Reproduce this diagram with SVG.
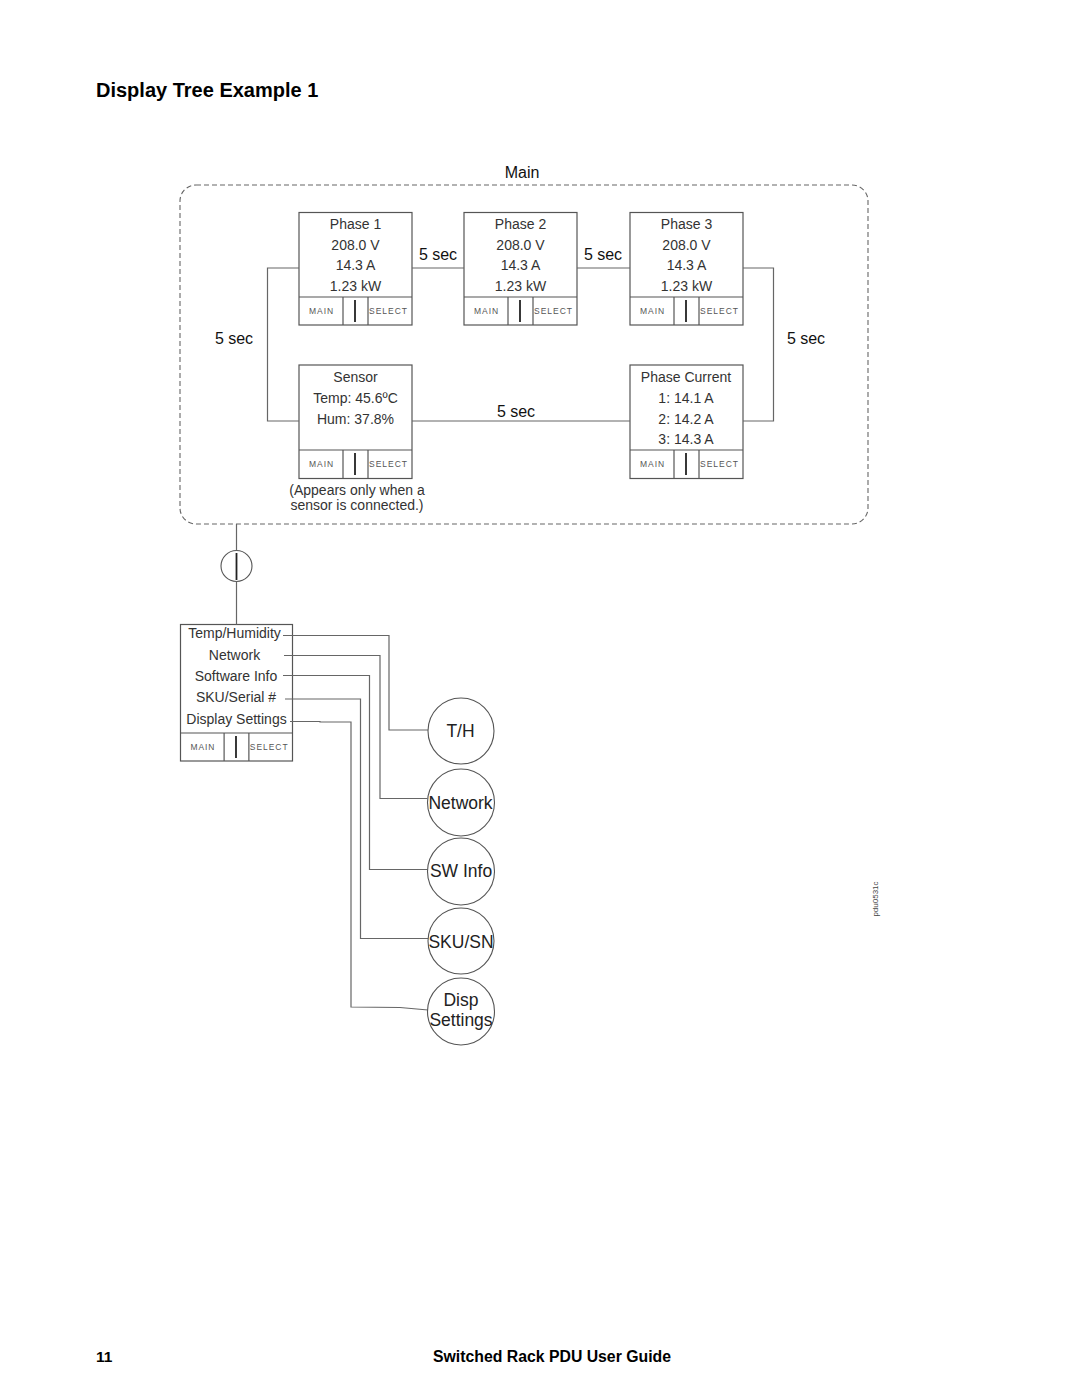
<svg xmlns="http://www.w3.org/2000/svg" width="1080" height="1397" viewBox="0 0 1080 1397">
<style>
text{font-family:"Liberation Sans",Arial,sans-serif}
.box{fill:#fff;stroke:#555;stroke-width:1.2}
.sep{stroke:#555;stroke-width:1.2}
.bar{stroke:#222;stroke-width:1.8}
.t{font-size:14px;fill:#333;text-anchor:middle}
.lbl{font-size:16px;fill:#111;text-anchor:middle}
.btn{font-size:8.5px;fill:#555;letter-spacing:1px}
.c{fill:none;stroke:#666;stroke-width:1.2}
.circ{fill:#fff;stroke:#555;stroke-width:1.1}
.ct{font-size:17.5px;fill:#222;text-anchor:middle}
</style>
<defs>
<g id="btns">
<line class="sep" x1="0" y1="0" x2="113" y2="0"/>
<line class="sep" x1="44" y1="0" x2="44" y2="28"/>
<line class="sep" x1="69" y1="0" x2="69" y2="28"/>
<line class="bar" x1="56" y1="3" x2="56" y2="25"/>
<text class="btn" x="10" y="17">MAIN</text>
<text class="btn" x="70" y="17" letter-spacing="0.8">SELECT</text>
</g>
</defs>

<text x="96" y="97" font-size="20" font-weight="bold" fill="#000">Display Tree Example 1</text>

<g id="main-frame">
<rect x="180" y="185" width="688" height="339" rx="16" ry="16" fill="none" stroke="#666" stroke-width="1.1" stroke-dasharray="5,3"/>
<text class="lbl" x="522" y="178">Main</text>
</g>

<g id="phase1">
<rect class="box" x="299" y="212.5" width="113" height="112.5"/>
<text class="t" x="355.5" y="229">Phase 1</text>
<text class="t" x="355.5" y="249.5">208.0 V</text>
<text class="t" x="355.5" y="270">14.3 A</text>
<text class="t" x="355.5" y="290.5">1.23 kW</text>
<use href="#btns" x="299" y="297"/>
</g>

<g id="phase2">
<rect class="box" x="464" y="212.5" width="113" height="112.5"/>
<text class="t" x="520.5" y="229">Phase 2</text>
<text class="t" x="520.5" y="249.5">208.0 V</text>
<text class="t" x="520.5" y="270">14.3 A</text>
<text class="t" x="520.5" y="290.5">1.23 kW</text>
<use href="#btns" x="464" y="297"/>
</g>

<g id="phase3">
<rect class="box" x="630" y="212.5" width="113" height="112.5"/>
<text class="t" x="686.5" y="229">Phase 3</text>
<text class="t" x="686.5" y="249.5">208.0 V</text>
<text class="t" x="686.5" y="270">14.3 A</text>
<text class="t" x="686.5" y="290.5">1.23 kW</text>
<use href="#btns" x="630" y="297"/>
</g>

<g id="sensor">
<rect class="box" x="299" y="365" width="113" height="113.5"/>
<text class="t" x="355.5" y="382">Sensor</text>
<text class="t" x="355.5" y="403">Temp: 45.6ºC</text>
<text class="t" x="355.5" y="424">Hum: 37.8%</text>
<use href="#btns" x="299" y="450"/>
<text class="t" x="357" y="495">(Appears only when a</text>
<text class="t" x="357" y="510">sensor is connected.)</text>
</g>

<g id="phase-current">
<rect class="box" x="630" y="365" width="113" height="113.5"/>
<text class="t" x="686" y="381.5">Phase Current</text>
<text class="t" x="686" y="402.5">1: 14.1 A</text>
<text class="t" x="686" y="423.5">2: 14.2 A</text>
<text class="t" x="686" y="444">3: 14.3 A</text>
<use href="#btns" x="630" y="450"/>
</g>

<g id="main-button">
<circle class="circ" cx="236.5" cy="566" r="15.5"/>
<line class="bar" x1="236.5" y1="553" x2="236.5" y2="580"/>
</g>

<g id="menu">
<rect class="box" x="180.5" y="624.5" width="112" height="136.5" fill="none" style="fill:none"/>
<text class="t" x="234.5" y="638">Temp/Humidity</text>
<text class="t" x="234.5" y="660">Network</text>
<text class="t" x="236" y="681">Software Info</text>
<text class="t" x="236" y="702">SKU/Serial #</text>
<text class="t" x="236.5" y="723.5">Display Settings</text>
<g transform="translate(180.5,733) scale(0.991,1)"><use href="#btns"/></g>
</g>

<g id="connectors">
<polyline class="c" points="412,268 464,268"/>
<polyline class="c" points="577,268 630,268"/>
<polyline class="c" points="299,268 267.5,268 267.5,421 299,421"/>
<polyline class="c" points="743,268 773.5,268 773.5,421 743,421"/>
<polyline class="c" points="412,421 630,421"/>
<polyline class="c" points="236.5,524 236.5,550.5"/>
<polyline class="c" points="236.5,581.5 236.5,624.5"/>
<polyline class="c" points="283,635.5 389,635.5 389,730 428,730"/>
<polyline class="c" points="284,655.5 380,655.5 380,798.5 427.5,798.5"/>
<polyline class="c" points="283,675.5 369.5,675.5 369.5,869.5 427.5,869.5"/>
<polyline class="c" points="285,699 360.5,699 360.5,938.5 428,938.5"/>
<polyline class="c" points="290,721.5 320,721.5 320,722 351,722 351,1007 400,1007.5 428,1010"/>
<text class="lbl" x="438" y="260">5 sec</text>
<text class="lbl" x="603" y="260">5 sec</text>
<text class="lbl" x="234" y="344">5 sec</text>
<text class="lbl" x="806" y="344">5 sec</text>
<text class="lbl" x="516" y="417">5 sec</text>
</g>

<g id="th"><circle class="circ" cx="461" cy="731" r="33"/><text class="ct" x="460.5" y="737">T/H</text></g>
<g id="network"><circle class="circ" cx="461" cy="802.5" r="33.5"/><text class="ct" x="460.5" y="809">Network</text></g>
<g id="swinfo"><circle class="circ" cx="461" cy="871.5" r="33.5"/><text class="ct" x="461" y="876.5">SW Info</text></g>
<g id="skusn"><circle class="circ" cx="461" cy="941" r="33"/><text class="ct" x="461" y="947.5">SKU/SN</text></g>
<g id="disp"><circle class="circ" cx="461" cy="1011.5" r="33.5"/><text class="ct" x="461" y="1006">Disp</text><text class="ct" x="461" y="1026">Settings</text></g>

<text x="878" y="899" font-size="8" fill="#444" text-anchor="middle" transform="rotate(-90 878 899)">pdu0531c</text>

<text x="96" y="1362" font-size="15.5" font-weight="bold" fill="#000">11</text>
<text x="552" y="1362" font-size="15.8" font-weight="bold" fill="#000" text-anchor="middle">Switched Rack PDU User Guide</text>
</svg>
